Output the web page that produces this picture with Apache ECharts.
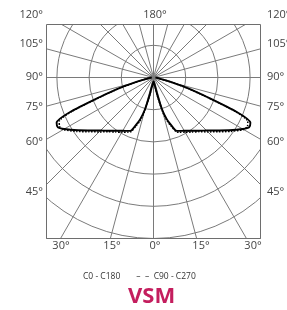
<!DOCTYPE html>
<html>
<head>
<meta charset="utf-8">
<script src="https://cdn.jsdelivr.net/npm/echarts@6/dist/echarts.min.js"></script>
<style>
  html, body { margin: 0; padding: 0; background: #fff; }
  #chart { width: 287px; height: 310px; }
</style>
</head>
<body>
<div id="chart"></div>
<script>
// gamma angles (deg from nadir) and intensities (relative cd, ring = 100)
const gammas = [0, 5, 10, 12.5, 15, 17.5, 20, 22.5, 25, 30, 35, 40, 45, 50, 55, 60, 62.5, 65, 67.5, 70, 72.5, 75, 77.5, 80, 85, 90];
const c0c180 = [12, 16, 28, 56, 102, 134, 155, 177, 183, 191, 202, 216, 233, 256, 286, 320, 335, 332, 280, 177, 115, 62, 34, 19, 12, 6];
const c90c270 = [12, 19, 34, 65, 112, 143, 161, 182, 188, 196, 207, 220, 239, 262, 292, 323, 329, 323, 274, 171, 112, 60, 34, 19, 12, 6];

const sideLabels = ['120°', '105°', '90°', '75°', '60°', '45°'];
const bottomLabels = ['30°', '15°', '0°', '15°', '30°'];
const topLabel = '180°';

// box of the diagram
const box = { left: 46, top: 24, right: 261, bottom: 239 };
const center = [153.5, 77.5];
const ringPx = 32.2;

// left half: gamma on angle axis, right half mirrored
function fullCurve(vals) {
  const pts = [];
  for (let i = gammas.length - 1; i >= 0; i--) pts.push([vals[i], gammas[i]]);
  for (let i = 0; i < gammas.length; i++) pts.push([vals[i], 360 - gammas[i]]);
  return pts;
}

const gridColor = '#7a7a7a';
const labelStyle = { fontSize: 11, fill: '#444', fontFamily: 'Open Sans' };

const sideY = [15, 44, 77, 107, 142, 192];
const bottomX = [61, 112, 155, 201, 253];

const graphics = [
  { type: 'rect', z: 50, shape: { x: 0, y: 0, width: 287, height: box.top }, style: { fill: '#fff' } },
  { type: 'rect', z: 50, shape: { x: 0, y: 0, width: box.left, height: 310 }, style: { fill: '#fff' } },
  { type: 'rect', z: 50, shape: { x: box.right, y: 0, width: 287 - box.right, height: 310 }, style: { fill: '#fff' } },
  { type: 'rect', z: 50, shape: { x: 0, y: box.bottom, width: 287, height: 310 - box.bottom }, style: { fill: '#fff' } },
  { type: 'rect', z: 60, shape: { x: box.left + 0.5, y: box.top + 0.5, width: box.right - box.left - 1, height: box.bottom - box.top - 1 },
    style: { fill: null, stroke: '#6e6e6e', lineWidth: 1 } },
  { type: 'text', z: 70, x: 155, y: 15, style: Object.assign({ text: topLabel, textAlign: 'center', textVerticalAlign: 'middle' }, labelStyle) }
];
sideLabels.forEach((t, i) => {
  graphics.push({ type: 'text', z: 70, x: 43, y: sideY[i], style: Object.assign({ text: t, textAlign: 'right', textVerticalAlign: 'middle' }, labelStyle) });
  graphics.push({ type: 'text', z: 70, x: 267, y: sideY[i], style: Object.assign({ text: t, textAlign: 'left', textVerticalAlign: 'middle' }, labelStyle) });
});
bottomLabels.forEach((t, i) => {
  graphics.push({ type: 'text', z: 70, x: bottomX[i], y: 246, style: Object.assign({ text: t, textAlign: 'center', textVerticalAlign: 'middle' }, labelStyle) });
});

const chart = echarts.init(document.getElementById('chart'));
chart.setOption({
  animation: false,
  title: {
    text: 'VSM', left: 123, top: 281, z: 80,
    textStyle: { fontSize: 22, fontWeight: 'bold', color: '#c41e5e', fontFamily: 'Open Sans' }
  },
  legend: {
    left: 72, top: 267, z: 80,
    itemWidth: 0, itemHeight: 0, itemGap: 10,
    textStyle: { fontSize: 8.5, color: '#333', fontFamily: 'Open Sans' },
    formatter: name => name === 'C90 - C270' ? '–  –  ' + name : name,
    data: ['C0 - C180', 'C90 - C270']
  },
  polar: { center: center, radius: ringPx * 6 },
  angleAxis: {
    type: 'value', min: 0, max: 360, interval: 15,
    startAngle: 270, clockwise: true,
    axisLine: { show: false }, axisTick: { show: false }, axisLabel: { show: false },
    splitLine: { show: true, lineStyle: { color: gridColor, width: 1 } }
  },
  radiusAxis: {
    min: 0, max: 600, interval: 100,
    axisLine: { show: false }, axisTick: { show: false }, axisLabel: { show: false },
    splitLine: { show: true, lineStyle: { color: gridColor, width: 1 } }
  },
  graphic: graphics,
  series: [
    {
      name: 'C0 - C180', type: 'line', coordinateSystem: 'polar',
      data: fullCurve(c0c180), symbol: 'none', smooth: 0.2,
      lineStyle: { color: '#000', width: 1.9 }, z: 20
    },
    {
      name: 'C90 - C270', type: 'line', coordinateSystem: 'polar',
      data: fullCurve(c90c270), symbol: 'none', smooth: 0.2,
      lineStyle: { color: '#000', width: 1.5, type: [1.5, 1.5] }, z: 19
    }
  ]
});
</script>
</body>
</html>
